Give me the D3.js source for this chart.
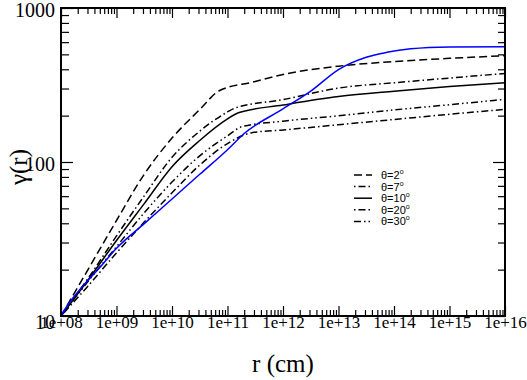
<!DOCTYPE html>
<html>
<head>
<meta charset="utf-8">
<script src="https://cdn.jsdelivr.net/npm/d3@7"></script>
<style>
  body { margin: 0; background: #fff; }
  svg { display: block; }
  .tick line { stroke: #000; stroke-width: 1.2; }
</style>
</head>
<body>
<div id="chart"></div>
<script>
const width = 527,
  height = 380,
  margin = { top: 8, bottom: 64, left: 61, right: 22 };

// values (r in cm, gamma)
const rTheta2 = [1e8, 3.16e8, 1e9, 3.16e9, 1e10, 3.16e10, 7.08e10, 3.16e11, 1e12, 1e13, 1e14, 1e15, 1e16];
const gTheta2 = [10, 20.4, 41.7, 83.2, 143, 219, 290, 333, 370, 419, 449, 471, 490];

const rTheta7 = [1e8, 3.16e8, 1e9, 3.16e9, 1e10, 3.16e10, 1e11, 1.36e11, 1e12, 1e13, 1e14, 1e15, 1e16];
const gTheta7 = [10, 17.8, 33.1, 60.3, 107.2, 158.5, 211.3, 223.9, 254.1, 302, 327, 350.8, 375.8];

const rTheta10 = [1e8, 3.16e8, 1e9, 3.16e9, 1e10, 3.16e10, 1e11, 1.57e11, 1e12, 1e13, 1e14, 1e15, 1e16];
const gTheta10 = [10, 17.4, 30.9, 53.7, 93.3, 138, 190.5, 208.9, 234.4, 266.1, 288.4, 309, 327.3];

const rTheta20 = [1e8, 3.16e8, 1e9, 3.16e9, 1e10, 3.16e10, 1e11, 2.75e11, 1e12, 1e13, 1e14, 1e15, 1e16];
const gTheta20 = [10, 15.85, 25.7, 40.7, 63.1, 95.5, 131.8, 154.9, 161.4, 174.6, 188.8, 204.2, 219.8];

const rTheta30 = [1e8, 3.16e8, 1e9, 3.16e9, 1e10, 3.16e10, 1e11, 1.8e11, 1e12, 1e13, 1e14, 1e15, 1e16];
const gTheta30 = [10, 17.0, 28.2, 46.8, 74.1, 109.6, 147.9, 169.4, 184.1, 199.5, 217.8, 235.5, 255.3];

const rBlue = [1e8, 1.26e8, 2e8, 5e8, 1e9, 3.16e9, 1e10, 3.16e10, 1e11, 2e11, 1e12, 3.16e12, 1e13, 3.16e13, 7.4e13, 2e14, 1e15, 1e16];
const gBlue = [10, 11.48, 14.29, 20.65, 27.5, 39.8, 57.5, 83.2, 120.2, 153.1, 221.3, 288.4, 398.1, 478.6, 515.2, 543.3, 558.5, 561];

const xTicks = [1e8, 1e9, 1e10, 1e11, 1e12, 1e13, 1e14, 1e15, 1e16];
const yTicks = [10, 100, 1000];
const legendLabels = ["2", "7", "10", "20", "30"];

const zip = (rs, gs) => rs.map((r, i) => ({ r: r, g: gs[i] }));

const series = [
  { name: "2", data: zip(rTheta2, gTheta2), color: "#000", dash: "8,4" },
  { name: "7", data: zip(rTheta7, gTheta7), color: "#000", dash: "1.5,3,7,3" },
  { name: "10", data: zip(rTheta10, gTheta10), color: "#000", dash: null },
  { name: "20", data: zip(rTheta20, gTheta20), color: "#000", dash: "1.5,3,7,3" },
  { name: "30", data: zip(rTheta30, gTheta30), color: "#000", dash: "7,3,1.5,3,1.5,3" },
  { name: "blue", data: zip(rBlue, gBlue), color: "#0000ff", dash: null }
];

const xScale = d3.scaleLog()
  .domain([1e8, 1e16])
  .range([margin.left, width - margin.right]);

const yScale = d3.scaleLog()
  .domain([10, 1000])
  .range([height - margin.bottom, margin.top]);

// minor ticks 2..9 in every decade
const minorX = [];
xTicks.slice(0, -1).forEach(d => { for (let k = 2; k < 10; k++) minorX.push(d * k); });
const minorY = [];
yTicks.slice(0, -1).forEach(d => { for (let k = 2; k < 10; k++) minorY.push(d * k); });

const svg = d3.select("#chart")
  .append("svg")
  .attr("width", width)
  .attr("height", height);

const serif = "'Liberation Serif', 'Times New Roman', serif";
const bottom = height - margin.bottom;
const right = width - margin.right;

function cleanAxis(g) {
  g.select(".domain").remove();
}

// bottom axis
svg.append("g")
  .attr("transform", `translate(0,${bottom})`)
  .call(d3.axisBottom(xScale).tickValues(minorX).tickSize(-6).tickFormat(""))
  .call(cleanAxis);

svg.append("g")
  .attr("transform", `translate(0,${bottom})`)
  .call(d3.axisBottom(xScale)
    .tickValues(xTicks)
    .tickSize(-10)
    .tickPadding(0)
    .tickFormat(d => "1e+" + String(Math.round(Math.log10(d))).padStart(2, "0")))
  .call(cleanAxis)
  .call(g => g.selectAll("text")
    .attr("font-family", serif)
    .attr("font-size", 17)
    .attr("fill", "#000"));

// top axis
svg.append("g")
  .attr("transform", `translate(0,${margin.top})`)
  .call(d3.axisTop(xScale).tickValues(minorX).tickSize(-6).tickFormat(""))
  .call(cleanAxis);

svg.append("g")
  .attr("transform", `translate(0,${margin.top})`)
  .call(d3.axisTop(xScale).tickValues(xTicks).tickSize(-10).tickFormat(""))
  .call(cleanAxis);

// left axis
svg.append("g")
  .attr("transform", `translate(${margin.left},0)`)
  .call(d3.axisLeft(yScale).tickValues(minorY).tickSize(-8).tickFormat(""))
  .call(cleanAxis);

svg.append("g")
  .attr("transform", `translate(${margin.left},0)`)
  .call(d3.axisLeft(yScale)
    .tickValues(yTicks)
    .tickSize(-12)
    .tickPadding(6)
    .tickFormat(d3.format("d")))
  .call(cleanAxis)
  .call(g => g.selectAll("text")
    .attr("font-family", serif)
    .attr("font-size", 20)
    .attr("fill", "#000")
    .attr("dy", d => d === 10 ? "0.6em" : "0.4em"));

// right axis
svg.append("g")
  .attr("transform", `translate(${right},0)`)
  .call(d3.axisRight(yScale).tickValues(minorY).tickSize(-7).tickFormat(""))
  .call(cleanAxis);

svg.append("g")
  .attr("transform", `translate(${right},0)`)
  .call(d3.axisRight(yScale).tickValues(yTicks).tickSize(-12).tickFormat(""))
  .call(cleanAxis);

// curves
const line = d3.line()
  .x(d => xScale(d.r))
  .y(d => yScale(d.g))
  .curve(d3.curveMonotoneX);

svg.append("g")
  .selectAll("path")
  .data(series)
  .join("path")
  .attr("d", d => line(d.data))
  .attr("fill", "none")
  .attr("stroke", d => d.color)
  .attr("stroke-width", 1.5)
  .attr("stroke-dasharray", d => d.dash);

// frame
svg.append("rect")
  .attr("x", margin.left)
  .attr("y", margin.top)
  .attr("width", right - margin.left)
  .attr("height", bottom - margin.top)
  .attr("fill", "none")
  .attr("stroke", "#000")
  .attr("stroke-width", 2);

// legend
const legend = svg.append("g").attr("transform", "translate(354,175)");
const rows = legend.selectAll("g")
  .data(series.filter(s => legendLabels.includes(s.name)))
  .join("g")
  .attr("transform", (d, i) => `translate(0,${i * 11.6})`);

rows.append("line")
  .attr("x1", 0)
  .attr("x2", 18)
  .attr("stroke", "#000")
  .attr("stroke-width", 1.5)
  .attr("stroke-dasharray", d => d.dash);

const label = rows.append("text")
  .attr("x", 27)
  .attr("y", 4)
  .attr("font-family", "'Liberation Sans', Arial, sans-serif")
  .attr("font-size", 11)
  .attr("fill", "#000");
label.append("tspan").text(d => "\u03b8=" + d.name);
label.append("tspan")
  .attr("font-size", 7)
  .attr("dy", -5)
  .text("o");

// axis titles
svg.append("text")
  .attr("x", 283)
  .attr("y", 372)
  .attr("text-anchor", "middle")
  .attr("font-family", serif)
  .attr("font-size", 25)
  .text("r (cm)");

svg.append("text")
  .attr("transform", "translate(27,167) rotate(-90)")
  .attr("text-anchor", "middle")
  .attr("font-family", serif)
  .attr("font-size", 25)
  .text("\u03b3(r)");
</script>
</body>
</html>
